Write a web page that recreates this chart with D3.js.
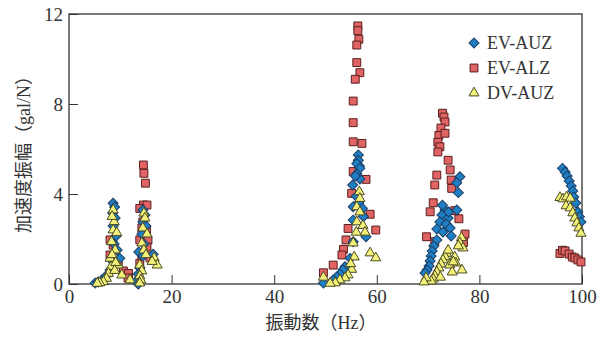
<!DOCTYPE html>
<html>
<head>
<meta charset="utf-8">
<script src="https://cdn.jsdelivr.net/npm/d3@7"></script>
<style>
  html, body { margin: 0; padding: 0; background: #fff; }
  svg text { font-family: "Liberation Serif", "Noto Sans CJK JP", serif; fill: #333; }
</style>
</head>
<body>
<div id="chart"></div>
<script>
// [frequency Hz, amplitude gal/N]
const evAuz = [
  [5.1,0.04],[5.7,0.09],[6.4,0.18],[7.2,0.36],[8.0,0.62],[8.6,0.98],[9.9,1.14],
  [8.6,3.59],[8.9,3.42],[8.5,3.15],[9.0,2.93],[8.6,2.58],[9.2,2.13],[8.8,1.78],[9.4,1.51],
  [14.4,3.29],[14.8,3.07],[14.4,2.76],[15.0,2.58],[14.2,2.22],[14.6,1.78],[13.6,1.42],
  [14.4,1.24],[16.4,1.32],[13.8,0.71],[13.5,0.44],[13.3,0.18],[13.5,0.0],
  [56.4,5.73],[56.4,5.5],[56.6,5.24],[56.1,5.35],[56.7,5.14],[56.1,4.9],[56.7,4.67],
  [55.8,4.8],[55.3,4.4],[56.0,3.9],[56.5,3.6],[57.2,3.36],[55.4,3.43],[57.4,3.0],
  [55.4,2.84],[57.9,2.1],[55.4,1.88],[54.8,1.14],[53.8,0.77],[53.4,0.62],[52.8,0.44],
  [52.2,0.31],[51.5,0.18],[49.6,0.04],
  [76.2,4.77],[75.6,4.5],[75.9,4.06],[75.6,3.29],[73.3,3.29],[72.7,3.07],[73.9,2.93],
  [72.3,2.76],[73.5,2.67],[74.3,2.49],[71.7,2.44],[72.9,2.31],[74.5,2.13],[71.7,1.96],
  [71.1,1.69],[70.8,1.47],[70.6,1.24],[70.4,1.02],[70.2,0.8],[69.8,0.62],[69.4,0.49],
  [72.8,3.5],[74.0,3.2],
  [96.2,5.14],[96.7,4.98],[97.1,4.8],[97.5,4.58],[97.9,4.36],[98.2,4.13],[98.4,3.87],
  [98.8,3.6],[99.2,3.2],[99.5,2.99],[99.8,2.76]
];

const evAlz = [
  [8.0,1.96],[8.6,1.73],[8.0,1.29],[9.6,0.99],[10.6,0.58],[11.6,0.47],[11.5,0.27],
  [14.5,5.29],[14.6,4.92],[14.9,4.48],[14.5,3.51],[15.2,3.51],[13.8,3.36],[14.4,2.76],
  [14.2,2.48],[15.1,2.36],[13.8,1.96],[15.4,1.96],[15.2,1.64],[14.2,1.29],[13.8,0.92],
  [15.8,1.16],
  [56.3,11.47],[56.3,11.26],[56.5,10.88],[56.1,10.62],[56.1,9.84],[56.7,9.39],[55.8,9.1],
  [55.4,8.13],[55.4,7.17],[55.4,6.32],[57.1,6.25],[55.4,5.0],[57.9,4.65],[55.1,4.03],
  [58.7,3.1],[54.4,2.47],[59.8,2.4],[54.0,1.96],[53.5,1.54],[53.2,1.29],[51.5,0.84],[49.6,0.5],
  [72.8,7.59],[73.1,7.42],[73.3,7.2],[72.5,6.93],[72.1,6.6],[73.3,6.7],[71.9,6.3],
  [72.3,6.1],[71.9,5.87],[73.9,5.5],[74.3,5.07],[71.7,4.84],[74.5,4.62],[71.3,4.4],
  [74.6,4.25],[71.0,3.61],[70.4,3.21],[75.2,3.26],[76.0,2.9],[69.7,2.1],[71.3,1.88],
  [77.2,2.22],[76.9,1.84],
  [95.7,1.36],[96.2,1.5],[96.7,1.47],[97.5,1.33],[98.1,1.2],[98.6,1.16],[99.2,1.07],[99.8,0.98]
];

const dvAuz = [
  [8.6,3.29],[8.8,2.77],[8.6,2.4],[9.3,2.28],[8.3,1.88],[9.0,1.51],[8.0,1.14],[8.2,0.77],
  [7.7,0.47],[7.3,0.25],[6.7,0.1],[9.6,0.84],[10.3,0.4],[11.9,0.18],[6.0,0.05],[5.5,0.03],
  [8.4,3.0],[8.4,1.3],[9.1,0.95],[8.9,0.6],
  [14.6,3.15],[14.8,2.93],[14.4,2.49],[15.2,2.22],[14.2,1.82],[14.6,1.51],[16.6,1.16],
  [17.2,0.84],[13.8,0.84],[14.2,0.58],[13.8,0.36],[14.0,0.18],[13.8,0.04],[16.2,1.0],[15.0,1.3],
  [56.6,4.1],[56.7,3.8],[56.1,3.43],[56.7,3.2],[56.1,2.76],[57.3,2.6],[57.7,2.3],[56.0,2.3],
  [55.4,1.82],[58.7,1.38],[59.8,1.16],[55.1,0.65],[54.4,0.4],[53.8,0.27],[52.8,0.18],
  [51.9,0.05],[50.9,0.03],[49.6,0.3],[55.6,1.2],[54.9,0.9],
  [76.5,2.06],[76.2,1.82],[76.8,1.6],[75.9,1.69],[75.2,1.2],[75.4,0.93],[73.6,1.36],
  [73.3,1.21],[72.9,1.07],[72.5,0.89],[72.1,0.71],[71.7,0.53],[71.3,0.36],[71.0,0.22],
  [70.6,0.13],[74.2,0.84],[74.9,0.98],[69.6,0.27],[69.2,0.09],[74.7,0.53],[76.6,0.62],
  [73.9,1.5],[72.4,0.3],
  [95.7,3.84],[96.3,3.78],[97.0,3.87],[97.7,3.81],[96.9,3.47],[97.7,3.38],[98.2,3.16],
  [98.6,2.93],[99.0,2.71],[99.4,2.49],[99.8,2.25]
];

const xTicks = [0, 20, 40, 60, 80, 100];
const yTicks = [0, 4, 8, 12];
const seriesNames = ['EV-AUZ', 'EV-ALZ', 'DV-AUZ'];
const xLabel = '振動数（Hz）';
const yLabel = '加速度振幅（gal/N）';

const width = 605, height = 338;
const margin = { top: 14, right: 23, bottom: 54, left: 69 };

const svg = d3.select('#chart').append('svg')
  .attr('width', width)
  .attr('height', height);

const x = d3.scaleLinear().domain([0, 100]).range([margin.left, width - margin.right]);
const y = d3.scaleLinear().domain([0, 12]).range([height - margin.bottom, margin.top]);

const axisColor = '#333';

// x axis, ticks pointing inward
const gx = svg.append('g')
  .attr('transform', `translate(0,${y(0)})`)
  .call(d3.axisBottom(x).tickValues(xTicks).tickSizeInner(-9).tickSizeOuter(0).tickPadding(6).tickFormat(d3.format('d')));
gx.select('.domain').remove();
gx.selectAll('line').attr('stroke', axisColor);
gx.selectAll('text').style('font-size', '19px').attr('fill', axisColor);

// y axis
const gy = svg.append('g')
  .attr('transform', `translate(${x(0)},0)`)
  .call(d3.axisLeft(y).tickValues(yTicks).tickSizeInner(-9).tickSizeOuter(0).tickPadding(6).tickFormat(d3.format('d')));
gy.select('.domain').remove();
gy.selectAll('line').attr('stroke', axisColor);
gy.selectAll('text').style('font-size', '19px').attr('fill', axisColor);

// frame
svg.append('rect')
  .attr('x', x(0)).attr('y', y(12))
  .attr('width', x(100) - x(0)).attr('height', y(0) - y(12))
  .attr('fill', 'none').attr('stroke', axisColor).attr('stroke-width', 1.3);

// axis labels
svg.append('text')
  .attr('x', 321).attr('y', 329)
  .attr('text-anchor', 'middle')
  .style('font-size', '18px')
  .text(xLabel);

svg.append('text')
  .attr('transform', `translate(30,150) rotate(-90)`)
  .attr('text-anchor', 'middle')
  .style('font-size', '18px')
  .text(yLabel);

// marker styles
const styles = [
  { shape: d3.symbol().type(d3.symbolSquare).size(50), rotate: 45, fill: '#1f7fc4', stroke: '#1d3d66' },
  { shape: d3.symbol().type(d3.symbolSquare).size(62), rotate: 0, fill: '#e06464', stroke: '#5a1e1e' },
  { shape: d3.symbol().type(d3.symbolTriangle).size(44), rotate: 0, fill: '#f3f07a', stroke: '#4a4a22' }
];

const drawOrder = [[evAlz, 1], [evAuz, 0], [dvAuz, 2]];

drawOrder.forEach(([data, si]) => {
  const st = styles[si];
  svg.append('g').selectAll('path')
    .data(data)
    .enter().append('path')
    .attr('d', st.shape)
    .attr('transform', d => `translate(${x(d[0])},${y(d[1])}) rotate(${st.rotate})`)
    .attr('fill', st.fill)
    .attr('stroke', st.stroke)
    .attr('stroke-width', 1);
});

// legend
const legend = svg.append('g').attr('transform', 'translate(474,43)');
seriesNames.forEach((name, i) => {
  const st = styles[i];
  const row = legend.append('g').attr('transform', `translate(0,${i * 25})`);
  row.append('path')
    .attr('d', st.shape)
    .attr('transform', `rotate(${st.rotate})`)
    .attr('fill', st.fill)
    .attr('stroke', st.stroke);
  row.append('text')
    .attr('x', 13).attr('y', 6)
    .style('font-size', '18px')
    .text(name);
});
</script>
</body>
</html>
